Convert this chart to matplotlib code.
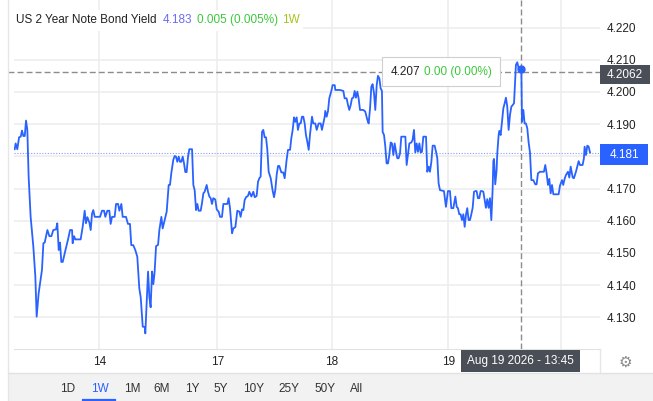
import numpy as np
import matplotlib.pyplot as plt
from matplotlib.patches import Rectangle

plt.rcParams['font.family'] = ['Liberation Sans', 'DejaVu Sans']

W, H = 653, 401

# x = trading session position (0 = Aug 13, 1 = Aug 14, 2 = Aug 17, 3 = Aug 18, 4 = Aug 19, 5 = Aug 20)
day_ticks = [1, 2, 3, 4, 5]
day_labels = ['14', '17', '18', '19', '20']
session_len = [1.18, 1.18, 1.144, 1.166, 1.124, 1.124]

session_pos = [
    0.283, 0.291, 0.305, 0.320, 0.334, 0.345, 0.356, 0.368, 0.379, 0.390,
    0.401, 0.418, 0.441, 0.458, 0.469, 0.486, 0.498, 0.514, 0.526, 0.537,
    0.560, 0.577, 0.594, 0.610, 0.633, 0.644, 0.656, 0.667, 0.678, 0.690,
    0.712, 0.735, 0.752, 0.769, 0.774, 0.786, 0.797, 0.842, 0.859, 0.876,
    0.887, 0.899, 0.916, 0.927, 0.938, 0.949, 0.961, 1.006, 1.023, 1.040,
    1.051, 1.068, 1.085, 1.096, 1.108, 1.130, 1.142, 1.159, 1.170, 1.187,
    1.198, 1.226, 1.243, 1.260, 1.271, 1.288, 1.305, 1.322, 1.339, 1.351,
    1.368, 1.385, 1.390, 1.401, 1.413, 1.424, 1.435, 1.447, 1.458, 1.469,
    1.481, 1.498, 1.509,
    1.526, 1.537, 1.554, 1.571, 1.588, 1.599, 1.610, 1.627, 1.639, 1.650,
    1.661, 1.673, 1.684, 1.695, 1.707, 1.718, 1.729, 1.740, 1.752, 1.763,
    1.786, 1.797, 1.808, 1.820, 1.831, 1.842, 1.859, 1.870, 1.882, 1.893,
    1.910, 1.921, 1.933, 1.944, 1.955, 1.966, 1.983, 1.995, 2.012, 2.024,
    2.041, 2.053, 2.088, 2.099, 2.111, 2.129, 2.140, 2.158, 2.175, 2.193,
    2.204, 2.216, 2.228, 2.239, 2.251, 2.268, 2.280, 2.298, 2.315, 2.327,
    2.344, 2.356, 2.368, 2.379, 2.391, 2.402, 2.414, 2.426, 2.437, 2.449,
    2.467, 2.484, 2.496, 2.507, 2.519, 2.531, 2.542, 2.560, 2.577, 2.589,
    2.606, 2.618, 2.636, 2.647, 2.659, 2.671, 2.682, 2.694, 2.705, 2.717,
    2.729, 2.740, 2.752, 2.764, 2.775, 2.787, 2.799, 2.810, 2.828, 2.839,
    2.857, 2.869, 2.886, 2.904, 2.915, 2.927, 2.939, 2.944, 2.956, 2.968,
    2.979, 2.997, 3.008, 3.026, 3.031, 3.071, 3.100, 3.111, 3.128, 3.140,
    3.151, 3.163, 3.174, 3.186, 3.197, 3.208, 3.220, 3.231, 3.243, 3.271,
    3.288, 3.306, 3.317, 3.329, 3.340, 3.351, 3.363, 3.374, 3.386, 3.397,
    3.409, 3.420, 3.431, 3.437, 3.449, 3.460, 3.471, 3.483, 3.494, 3.506,
    3.517, 3.529, 3.540, 3.552, 3.563, 3.574, 3.586, 3.597, 3.632, 3.643,
    3.654, 3.666, 3.683, 3.694, 3.706, 3.717, 3.729, 3.740, 3.752, 3.763,
    3.774, 3.786, 3.809, 3.820, 3.832, 3.843, 3.855, 3.866, 3.883, 3.895,
    3.906, 3.917, 3.929, 3.963, 3.980, 3.997, 4.015,
    4.027, 4.045, 4.063, 4.075, 4.086, 4.098, 4.110, 4.122, 4.134, 4.146,
    4.158, 4.169, 4.181, 4.193, 4.205, 4.217, 4.229, 4.241, 4.252, 4.264,
    4.276, 4.288, 4.300, 4.312, 4.324, 4.335, 4.347, 4.359, 4.371, 4.383,
    4.395, 4.401, 4.407, 4.418, 4.430, 4.436, 4.448, 4.454, 4.466, 4.478,
    4.490, 4.502, 4.513, 4.525, 4.537, 4.549, 4.561, 4.573, 4.585, 4.591,
    4.602, 4.614, 4.626, 4.638, 4.650, 4.656, 4.668, 4.679, 4.691, 4.703,
    4.715, 4.727, 4.739, 4.757, 4.774, 4.786, 4.798, 4.816, 4.834, 4.851,
    4.863, 4.875, 4.887, 4.899, 4.911, 4.923, 4.935, 4.982, 4.994, 5.012,
    5.023, 5.035, 5.047, 5.065, 5.077, 5.089, 5.107, 5.118, 5.136, 5.148,
    5.160, 5.172, 5.195, 5.207, 5.213, 5.225, 5.237, 5.249, 5.261,
]

yields = [
    4.1822, 4.1840, 4.1822, 4.1859, 4.1861, 4.1880, 4.1863, 4.1863, 4.1911, 4.1882,
    4.1737, 4.1612, 4.1519, 4.1426, 4.1302, 4.1375, 4.1406, 4.1447, 4.1530, 4.1532,
    4.1571, 4.1552, 4.1552, 4.1571, 4.1573, 4.1592, 4.1509, 4.1532, 4.1472, 4.1472,
    4.1507, 4.1542, 4.1571, 4.1571, 4.1530, 4.1552, 4.1542, 4.1542, 4.1581, 4.1631,
    4.1592, 4.1611, 4.1594, 4.1571, 4.1621, 4.1633, 4.1612, 4.1612, 4.1631, 4.1631,
    4.1612, 4.1631, 4.1631, 4.1590, 4.1612, 4.1612, 4.1652, 4.1652, 4.1631, 4.1652,
    4.1612, 4.1612, 4.1590, 4.1590, 4.1524, 4.1524, 4.1509, 4.1488, 4.1390, 4.1362,
    4.1271, 4.1270, 4.1250, 4.1343, 4.1442, 4.1364, 4.1331, 4.1442, 4.1403, 4.1442,
    4.1521, 4.1525, 4.1571,
    4.1612, 4.1576, 4.1602, 4.1628, 4.1711, 4.1711, 4.1747, 4.1789, 4.1801, 4.1799,
    4.1783, 4.1799, 4.1783, 4.1783, 4.1799, 4.1778, 4.1751, 4.1751, 4.1799, 4.1822,
    4.1822, 4.1711, 4.1695, 4.1633, 4.1652, 4.1631, 4.1631, 4.1654, 4.1685, 4.1690,
    4.1711, 4.1690, 4.1675, 4.1670, 4.1652, 4.1670, 4.1666, 4.1635, 4.1628, 4.1612,
    4.1612, 4.1652, 4.1652, 4.1670, 4.1639, 4.1561, 4.1576, 4.1580, 4.1631, 4.1628,
    4.1612, 4.1635, 4.1633, 4.1664, 4.1673, 4.1677, 4.1690, 4.1675, 4.1690, 4.1673,
    4.1677, 4.1721, 4.1732, 4.1737, 4.1876, 4.1882, 4.1859, 4.1859, 4.1822, 4.1752,
    4.1732, 4.1693, 4.1673, 4.1695, 4.1742, 4.1770, 4.1770, 4.1750, 4.1750, 4.1732,
    4.1789, 4.1820, 4.1820, 4.1856, 4.1882, 4.1921, 4.1907, 4.1921, 4.1882, 4.1902,
    4.1902, 4.1923, 4.1923, 4.1902, 4.1866, 4.1845, 4.1820, 4.1866, 4.1923, 4.1902,
    4.1902, 4.1882, 4.1902, 4.1902, 4.1882, 4.1902, 4.1923, 4.1941, 4.1923, 4.1941,
    4.1980, 4.2003, 4.2021, 4.2021, 4.2006, 4.2006, 4.2003, 4.1980, 4.1980, 4.1959,
    4.1944, 4.1959, 4.1980, 4.1982, 4.2003, 4.1982, 4.2001, 4.1980, 4.1944, 4.1944,
    4.1939, 4.1913, 4.1902, 4.1949, 4.2016, 4.2024, 4.1996, 4.1944, 4.2021, 4.2050,
    4.2042, 4.2011, 4.2003, 4.1876, 4.1866, 4.1830, 4.1778, 4.1778, 4.1804, 4.1843,
    4.1840, 4.1804, 4.1840, 4.1814, 4.1794, 4.1794, 4.1809, 4.1861, 4.1861, 4.1773,
    4.1804, 4.1840, 4.1843, 4.1851, 4.1882, 4.1812, 4.1840, 4.1814, 4.1840, 4.1812,
    4.1814, 4.1861, 4.1861, 4.1752, 4.1768, 4.1752, 4.1783, 4.1833, 4.1833, 4.1814,
    4.1794, 4.1716, 4.1695, 4.1692, 4.1643, 4.1692, 4.1692,
    4.1639, 4.1639, 4.1675, 4.1643, 4.1639, 4.1620, 4.1620, 4.1602, 4.1620, 4.1581,
    4.1620, 4.1639, 4.1602, 4.1602, 4.1620, 4.1640, 4.1690, 4.1692, 4.1692, 4.1670,
    4.1670, 4.1692, 4.1692, 4.1690, 4.1664, 4.1640, 4.1667, 4.1640, 4.1670, 4.1602,
    4.1701, 4.1785, 4.1792, 4.1713, 4.1757, 4.1809, 4.1866, 4.1879, 4.1866, 4.1907,
    4.1949, 4.1965, 4.1982, 4.1954, 4.1882, 4.1928, 4.1954, 4.1959, 4.1965, 4.2006,
    4.2084, 4.2092, 4.2073, 4.2068, 4.2073, 4.1907, 4.1944, 4.1902, 4.1902, 4.1887,
    4.1843, 4.1812, 4.1726, 4.1726, 4.1713, 4.1713, 4.1747, 4.1752, 4.1752, 4.1752,
    4.1773, 4.1747, 4.1711, 4.1730, 4.1685, 4.1711, 4.1682, 4.1682, 4.1709, 4.1726,
    4.1711, 4.1730, 4.1742, 4.1752, 4.1734, 4.1768, 4.1734, 4.1732, 4.1752, 4.1768,
    4.1785, 4.1773, 4.1773, 4.1794, 4.1830, 4.1804, 4.1833, 4.1830, 4.1812,
]

y_ticks = [4.13, 4.14, 4.15, 4.16, 4.17, 4.18, 4.19, 4.20, 4.21, 4.22]
last_close = 4.181
cross_x = 4.644
cross_y = 4.2062
hover_val = 4.207
ranges = ['1D', '1W', '1M', '6M', '1Y', '5Y', '10Y', '25Y', '50Y', 'All']

BLUE = '#2962ff'
DARK = '#4a4e57'
GREEN = '#3cc83c'


def fx(px):
    return px / W


def fy(py):
    return 1 - py / H


def frect(x0, y0, x1, y1, **kw):
    r = Rectangle((fx(x0), fy(y1)), (x1 - x0) / W, (y1 - y0) / H,
                  transform=fig.transFigure, **kw)
    fig.add_artist(r)
    return r


fig = plt.figure(figsize=(W / 100, H / 100), dpi=100)
fig.patch.set_facecolor('white')

ax = fig.add_axes([fx(14), fy(349), (600 - 14) / W, 349 / H])

# piecewise session scale (sessions have slightly different bar counts)
edges = np.concatenate([[0], np.cumsum(session_len)])
days = np.arange(len(edges))
ax.set_xscale('function', functions=(lambda x: np.interp(x, days, edges),
                                     lambda x: np.interp(x, edges, days)))
ax.set_xlim(0.277, 5.35)
ax.set_ylim(4.12016, 4.22854)

ax.plot(session_pos, yields, color=BLUE, lw=1.3, zorder=4)
ax.axhline(last_close, color=BLUE, lw=0.8, ls=(0, (1, 1.5)), alpha=0.6, zorder=3)

ax.axvline(cross_x, color='#8c8c8c', lw=1, ls=(0, (4.3, 2.2)), zorder=3)
ax.axhline(cross_y, xmin=-0.01, color='#8c8c8c', lw=1, ls=(0, (4.3, 2.2)),
           zorder=3, clip_on=False)
ax.plot([cross_x], [hover_val], 'o', ms=5, color=BLUE, zorder=5)

for s in ['top', 'left', 'right']:
    ax.spines[s].set_visible(False)
ax.spines['bottom'].set_color('#e2e2e2')

# labels that sit behind the crosshair date box / last price box are not shown
ax.set_xticks(day_ticks)
ax.set_xticklabels([lab if d != 5 else '' for d, lab in zip(day_ticks, day_labels)])
ax.set_yticks(y_ticks)
ax.set_yticklabels([f'{v:.3f}' if abs(v - last_close) > 0.005 else '' for v in y_ticks])
ax.yaxis.tick_right()
ax.tick_params(axis='y', length=0, pad=4.5, labelsize=8.5, labelcolor='#222222')
ax.tick_params(axis='x', length=0, pad=5, labelsize=8.5, labelcolor='#222222')
ax.grid(True, color='#ededed', lw=1.2)
ax.set_axisbelow(True)

# frame lines of the widget
fig.add_artist(plt.Line2D([fx(8), fx(8)], [0, 1], color='#e6e6e6', lw=1,
                          transform=fig.transFigure))
fig.add_artist(plt.Line2D([fx(599.5), fx(599.5)], [fy(349), fy(373)], color='#e6e6e6',
                          lw=1, transform=fig.transFigure))

# title
frect(14, 10, 303, 31, facecolor='white', edgecolor='none', zorder=2)
title_parts = [('US 2 Year Note Bond Yield', 16, '#222222'), ('4.183', 163, '#6b6bf0'),
               ('0.005 (0.005%)', 197, GREEN), ('1W', 282, '#a3c41c')]
for s, x, c in title_parts:
    fig.text(fx(x), fy(20), s, color=c, fontsize=8.5, va='center', ha='left', zorder=3)

# hover tooltip
frect(382, 57, 500, 86, facecolor='white', edgecolor='#cfcfcf', lw=0.8, zorder=2)
fig.text(fx(391), fy(72), f'{hover_val:.3f}', color='#222222', fontsize=8.5,
         va='center', zorder=3)
fig.text(fx(424), fy(72), '0.00 (0.00%)', color=GREEN, fontsize=8.5, va='center', zorder=3)

# price labels on the right axis
frect(600, 65, 650, 84, facecolor=DARK, edgecolor='none', zorder=2)
fig.text(fx(625), fy(74.5), f'{cross_y:.4f}', color='white', fontsize=8.5,
         ha='center', va='center', zorder=3)
frect(600, 144, 648, 165, facecolor=BLUE, edgecolor='none', zorder=2)
fig.text(fx(624), fy(154.5), f'{last_close:.3f}', color='white', fontsize=8.5,
         ha='center', va='center', zorder=3)

# date label under the crosshair
frect(461, 350, 580, 372, facecolor=DARK, edgecolor='none', zorder=2)
fig.text(fx(520.5), fy(361), 'Aug 19 2026 - 13:45', color='white', fontsize=8.5,
         ha='center', va='center', zorder=3)
fig.text(fx(625), fy(362), '\u2699', color='#8a8a8a', fontsize=11,
         ha='center', va='center', family='DejaVu Sans')

# range selector bar
frect(8, 373, W, H, facecolor='#f2f2f2', edgecolor='none', zorder=1)
fig.add_artist(plt.Line2D([fx(8), 1], [fy(373), fy(373)], color='#e2e2e2', lw=1,
                          transform=fig.transFigure))
btn_x = [68, 100, 132, 162, 192, 221, 254, 289, 325, 357]
for lab, x in zip(ranges, btn_x):
    c = BLUE if lab == '1W' else '#333333'
    fig.text(fx(x), fy(389.5), lab, color=c, fontsize=8.5, ha='center', va='center', zorder=3)
fig.add_artist(plt.Line2D([fx(83), fx(115)], [fy(400), fy(400)], color=BLUE, lw=1.6,
                          transform=fig.transFigure))

fig.savefig('out.png', dpi=100)
